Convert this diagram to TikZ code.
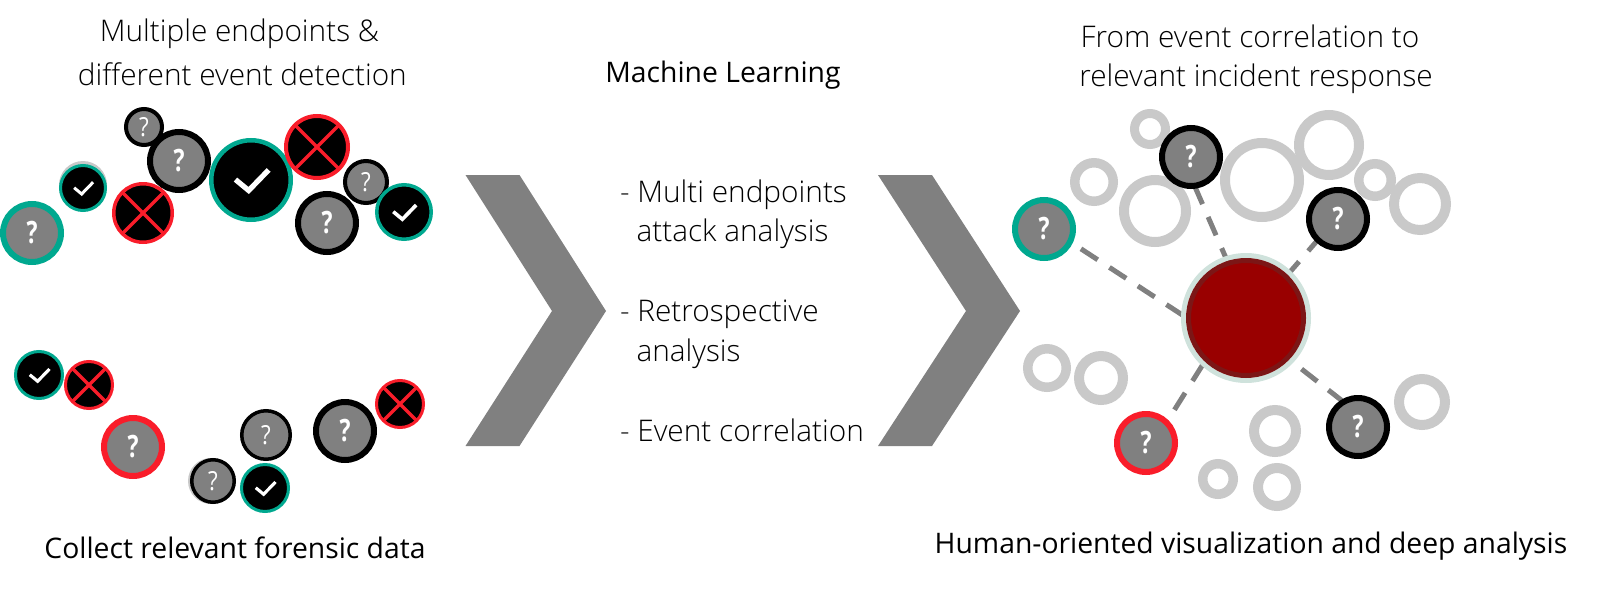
\documentclass[tikz,border=0pt]{standalone}
\usepackage{fontspec}
\setmainfont{Open Sans}[UprightFont=* Light,BoldFont=* Bold]
\newfontfamily\qreg{Open Sans}
\newfontfamily\qbold{Open Sans}[UprightFont=* Bold]
\usetikzlibrary{backgrounds}
\definecolor{tealring}{HTML}{00A88F}
\definecolor{redring}{HTML}{F91D2A}
\definecolor{midgray}{HTML}{808080}
\definecolor{palering}{HTML}{C9C9C9}
\tikzset{
  ball/.style={circle,inner sep=0pt,outer sep=0pt,text=white},
  lbl/.style={inner sep=0pt,outer sep=0pt,text=black,font=\fontsize{29.8}{32}\selectfont},
  lbldark/.style={inner sep=0pt,outer sep=0pt,text=black,font=\qreg\fontsize{28.3}{32}\selectfont},
  link/.style={draw=midgray,line width=5pt,dash pattern=on 20pt off 14pt},
  chev/.style={fill=midgray},
  ghost/.style={circle,inner sep=0pt,outer sep=0pt,draw=palering},
  shade/.style={circle,inner sep=0pt,outer sep=0pt,fill=palering},
}
% name, x, y, r, ring, colour
\newcommand{\qbig}[6]{\node[ball,draw=#6,fill=midgray,line width=#5pt,minimum size={(2*#4-#5)*1pt},font=\qbold\fontsize{28}{30}\selectfont] (#1) at (#2,#3) {\scalebox{.82}[1.1]{?}};}
\newcommand{\qsmall}[6]{\node[ball,draw=#6,fill=midgray,line width=#5pt,minimum size={(2*#4-#5)*1pt},font=\qreg\fontsize{25}{27}\selectfont] (#1) at (#2,#3) {\scalebox{.9}[1.05]{?}};}
\newcommand{\okball}[5]{\node[ball,draw=tealring,fill=black,line width=#5pt,minimum size={(2*#4-#5)*1pt}] (#1) at (#2,#3) {};
  \draw[white,line width={#4*0.125pt},shift={(#1)},scale=#4] (-.37,-.01) -- (-.055,.25) -- (.42,-.24);}
\newcommand{\noball}[5]{\node[ball,draw=redring,fill=black,line width=#5pt,minimum size={(2*#4-#5)*1pt}] (#1) at (#2,#3) {};
  \draw[redring,line width=3.2pt] (#1.45) -- (#1.225) (#1.135) -- (#1.315);}
\newcommand{\ghostring}[5]{\node[ghost,line width=#5pt,minimum size={(2*#4-#5)*1pt}] (#1) at (#2,#3) {};}
\begin{document}
\begin{tikzpicture}[x=1pt,y=-1pt]
\useasboundingbox (0,0) rectangle (1598,589);
% chevrons
\fill[chev] (465.5,175) -- (519.5,175) -- (606,311) -- (519.5,446) -- (465.5,446) -- (552,311) -- cycle;
\fill[chev] (878,175) -- (932,175) -- (1020,311) -- (932,446) -- (878,446) -- (966,311) -- cycle;
% texts
\node[lbl] (t1) at (239.5,34) {Multiple endpoints \&};
\node[lbl] (t2) at (242.4,74) {different event detection};
\node[lbldark] (t3) at (723,75) {Machine Learning};
\node[lbl,anchor=west] (t4) at (620,195) {- Multi endpoints};
\node[lbl,anchor=west] (t5) at (636.5,234) {attack analysis};
\node[lbl,anchor=west] (t6) at (620,314) {- Retrospective};
\node[lbl,anchor=west] (t7) at (636.5,354) {analysis};
\node[lbl,anchor=west] (t8) at (620,430) {- Event correlation};
\node[lbl] (t9) at (1250,36.5) {From event correlation to};
\node[lbl] (t10) at (1256,79) {relevant incident response};
\node[lbldark] (t11) at (235,548) {Collect relevant forensic data};
\node[lbldark] (t12) at (1251,546) {Human-oriented visualization and deep analysis};
% faint shadows
\node[shade,minimum size=48pt] (s1) at (83,185) {};
\node[shade,minimum size=46pt] (s2) at (211,481) {};
% top-left group
\qsmall{a3}{144}{127}{20}{4}{black}
\qbig{a4}{179}{161}{32}{6}{black}
\qbig{a1}{32}{233}{32}{6}{tealring}
\okball{a2}{83}{188}{24}{3}
\noball{a5}{143}{213}{31}{3.5}
\okball{a6}{251}{180}{42}{4.5}
\noball{a7}{317}{147}{33}{4}
\qsmall{a8}{366}{182}{23}{4}{black}
\qbig{a9}{327}{223}{32}{6}{black}
\okball{a10}{404}{212}{29}{3.5}
% bottom-left group
\okball{b1}{39}{375}{25}{3}
\noball{b2}{89}{385}{25}{3}
\qbig{b3}{133}{447}{32}{6}{redring}
\qsmall{b4}{266}{435}{26}{3.5}{black}
\qsmall{b5}{213}{481}{23}{3.5}{black}
\okball{b6}{265}{488}{25}{3}
\qbig{b7}{345}{431}{32}{6}{black}
\noball{b8}{400}{404}{25}{3}
% pale rings
\ghostring{g1}{1150}{129}{20}{9}
\ghostring{g2}{1094}{182}{24}{9.5}
\ghostring{g3}{1155}{211}{36}{10}
\ghostring{g4}{1262}{180}{42}{10}
\ghostring{g5}{1329}{145}{35}{10}
\ghostring{g6}{1375}{180}{21}{9.5}
\ghostring{g7}{1420}{204}{31}{10}
\ghostring{g8}{1047}{368}{24}{9.5}
\ghostring{g9}{1101}{378}{27}{10}
\ghostring{g10}{1275}{431}{26}{10}
\ghostring{g11}{1218}{479}{20}{9.5}
\ghostring{g12}{1277}{487}{24}{10}
\ghostring{g13}{1422}{402}{28}{10}
% hub and satellites
\node[circle,inner sep=0pt,outer sep=0pt,draw={rgb,255:red,207;green,226;blue,220},line width=5pt,minimum size=125pt] (chalo) at (1246,318) {};
\node[circle,inner sep=0pt,outer sep=0pt,draw={rgb,255:red,124;green,22;blue,22},fill={rgb,255:red,153;green,0;blue,0},line width=5pt,minimum size=115pt] (c) at (1246,318) {};
\qbig{n1}{1044}{229}{32}{6}{tealring}
\qbig{n2}{1191}{157}{32}{6}{black}
\qbig{n3}{1338}{219}{32}{6}{black}
\qbig{n4}{1146}{443}{32}{6}{redring}
\qbig{n5}{1358}{427}{32}{6}{black}
\begin{scope}[on background layer]
\draw[link,shorten <=13pt] (n1.-26) -- (c.181);
\draw[link] (n2.-83) -- (c.108);
\draw[link] (c.46) -- (n3.-134);
\draw[link,shorten <=15pt] (n4.45) -- (c.226);
\draw[link,shorten <=18pt] (c.-44) -- (n5.120);
\end{scope}
\end{tikzpicture}
\end{document}
